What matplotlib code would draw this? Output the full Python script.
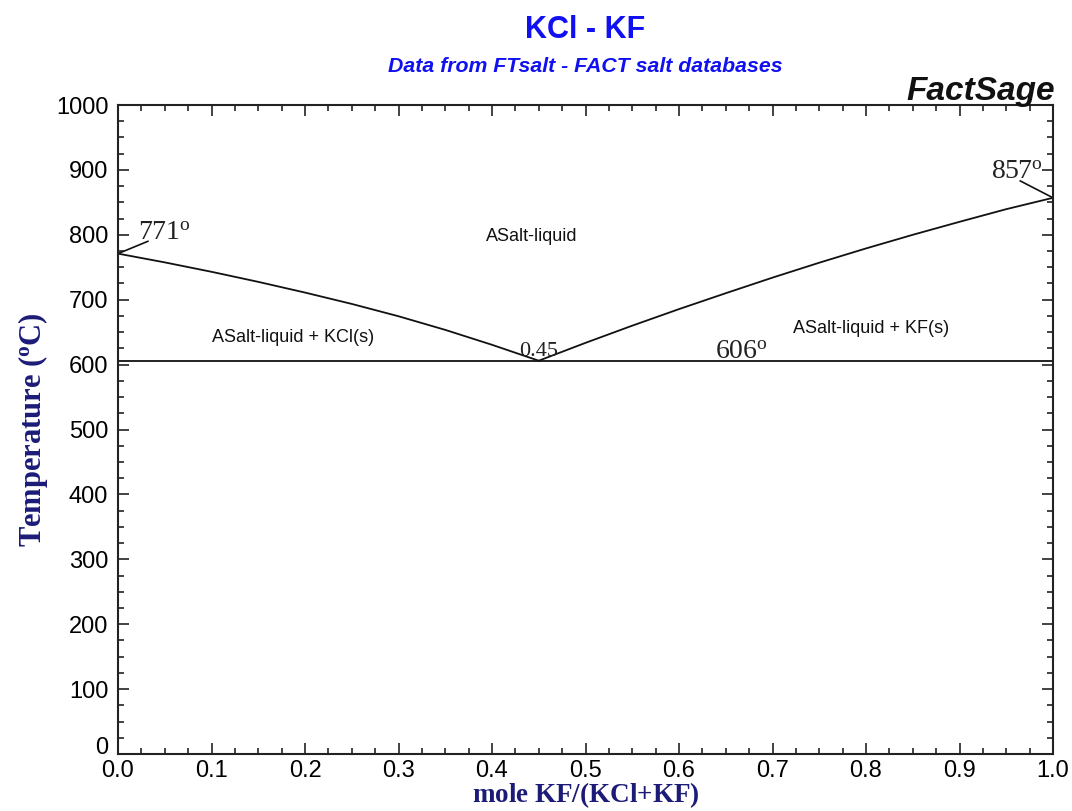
import matplotlib
matplotlib.use("Agg")
import matplotlib.pyplot as plt
from matplotlib.ticker import MultipleLocator

plt.rcParams['mathtext.fontset'] = 'custom'
plt.rcParams['mathtext.rm'] = 'Liberation Serif'
plt.rcParams['mathtext.it'] = 'Liberation Serif:italic'
plt.rcParams['mathtext.bf'] = 'Liberation Serif:bold'

# Liquidus data (mole fraction KF, temperature in C)
x_left = [0.0, 0.05, 0.10, 0.15, 0.20, 0.25, 0.30, 0.35, 0.40, 0.45]
t_left = [771, 757.5, 743, 727.5, 711, 693.5, 674.5, 653.5, 630.5, 606]
x_right = [0.45, 0.50, 0.55, 0.60, 0.65, 0.70, 0.75, 0.80, 0.85, 0.90, 0.95, 1.0]
t_right = [606, 633.5, 660, 685.5, 710, 734, 757, 779, 800, 820, 839.5, 857]
eutectic_T = 606
eutectic_x = 0.45
melt_KCl = 771
melt_KF = 857

phase_labels = ["ASalt-liquid", "ASalt-liquid + KCl(s)", "ASalt-liquid + KF(s)"]
phase_pos = [(0.442, 798), (0.187, 641), (0.805, 656)]

W, H = 1072, 811
fig = plt.figure(figsize=(W / 100, H / 100), dpi=100)
L, R, T, B = 118, 1053, 105, 754
ax = fig.add_axes([L / W, 1 - B / H, (R - L) / W, (B - T) / H])

line_kw = dict(color='#111111', lw=1.3)
ax.plot(x_left, t_left, **line_kw)
ax.plot(x_right, t_right, **line_kw)
ax.axhline(eutectic_T, **line_kw)

ax.set_xlim(0, 1)
ax.set_ylim(0, 1000)
ax.xaxis.set_major_locator(MultipleLocator(0.1))
ax.xaxis.set_minor_locator(MultipleLocator(0.025))
ax.yaxis.set_major_locator(MultipleLocator(100))
ax.yaxis.set_minor_locator(MultipleLocator(25))
ax.set_xticks(ax.get_xticks())
ax.set_xticklabels([f"{v:.1f}" for v in ax.get_xticks()])
ax.set_xlim(0, 1)
ax.set_yticks(range(0, 1001, 100))
ax.set_ylim(0, 1000)
ax.tick_params(which='both', direction='in', top=True, right=True, color='#222222', width=1.2)
ax.tick_params(which='major', length=8, labelsize=17)
ax.tick_params(axis='x', which='major', pad=4)
ax.tick_params(axis='y', which='major', pad=7)
ax.tick_params(which='minor', length=4)
for lab in ax.get_xticklabels() + ax.get_yticklabels():
    lab.set_family('Liberation Sans')
# the "0" label sits just above the bottom axis, as in the reference
ax.yaxis.get_major_ticks()[0].label1.set_va('baseline')
for s in ax.spines.values():
    s.set_linewidth(1.5)
    s.set_color('#222222')

navy = '#1c1c78'
ax.set_ylabel(r'$\mathbf{Temperature\ (^{o}C)}$', fontsize=22, color=navy, labelpad=4)
fig.text(0.5 * (L + R) / W, 0.5 / H, r'$\mathbf{mole\ KF/(KCl{+}KF)}$', ha='center', va='bottom',
         fontsize=19.5, color=navy)

# Titles
fig.text(0.5 * (L + R) / W, 1 - 30 / H, "KCl - KF", ha='center', va='center',
         fontsize=22, fontweight='bold', color='#1010f0', family='Liberation Sans')
fig.text(0.5 * (L + R) / W, 1 - 67 / H, "Data from FTsalt - FACT salt databases", ha='center', va='center',
         fontsize=15.3, fontweight='bold', style='italic', color='#1010f0', family='Liberation Sans')
fig.text(1055 / W, 1 - 100 / H, "FactSage", ha='right', va='baseline',
         fontsize=24, fontweight='bold', style='italic', color='#111111', family='Liberation Sans')

# Phase labels
for lab, (px, py) in zip(phase_labels, phase_pos):
    ax.text(px, py, lab, ha='center', va='center', fontsize=13, family='Liberation Sans', color='#111111')

# Point annotations
ann = dict(fontsize=20, color='#222222')
ax.plot([0.0, 0.032], [melt_KCl, 790], color='#111111', lw=1.2, clip_on=False)
ax.text(0.021, 792, r'$\mathrm{%d}^{\mathrm{o}}$' % melt_KCl, ha='left', va='baseline', **ann)
ax.plot([1.0, 0.965], [melt_KF, 883], color='#111111', lw=1.2, clip_on=False)
ax.text(0.9615, 886, r'$\mathrm{%d}^{\mathrm{o}}$' % melt_KF, ha='center', va='baseline', **ann)
ax.text(0.667, 609, r'$\mathrm{%d}^{\mathrm{o}}$' % eutectic_T, ha='center', va='baseline', **ann)
ax.text(eutectic_x, 614, f"{eutectic_x:.2f}", ha='center', va='baseline', fontsize=16,
        color='#222222', family='Liberation Serif')

fig.savefig("out.png", dpi=100, facecolor='white')
